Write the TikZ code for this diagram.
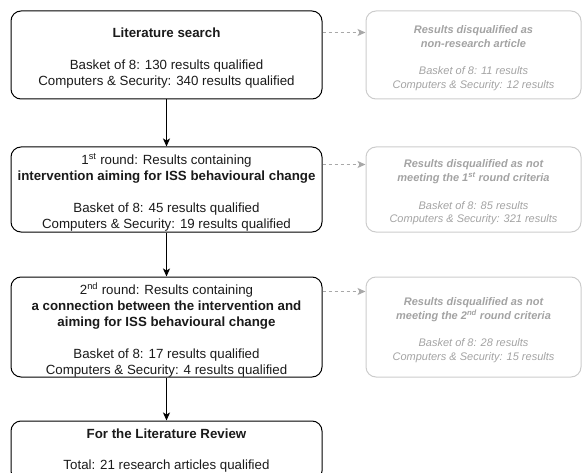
\documentclass[tikz,border=0pt]{standalone}
\usepackage{fontspec}
\setmainfont{Liberation Sans}
\usetikzlibrary{arrows.meta,calc}
\definecolor{graytxt}{HTML}{A3A3A3}
\definecolor{grayline}{HTML}{CCCCCC}
\definecolor{grayarrow}{HTML}{A8A8A8}
\definecolor{darktxt}{HTML}{1A1A1A}
\tikzset{
 lbox/.style={draw=black, line width=1pt, rounded corners=10pt, minimum width=311pt, inner sep=0pt},
 rbox/.style={draw=grayline, line width=1pt, rounded corners=10pt, minimum width=215pt, inner sep=0pt},
 ltext/.style={inner sep=0pt, align=center, font=\fontsize{13.3}{16}\selectfont, text=darktxt},
 rtext/.style={inner sep=0pt, align=center, font=\fontsize{11}{13.8}\selectfont\itshape, text=graytxt},
 flow/.style={draw=black, line width=1pt, -{Stealth[length=8pt,width=7pt,inset=2pt]}},
 skiparrow/.style={draw=grayarrow, line width=1pt, dash pattern=on 3pt off 3pt, -{Stealth[length=8pt,width=7pt,inset=2pt]}},
}
\begin{document}
\begin{tikzpicture}[x=1pt,y=-1pt]
\useasboundingbox (0,0) rectangle (583,473);
\clip (0,0) rectangle (583,473);
% left column boxes
\node[lbox, minimum height=88pt] (b1) at (166.5,55) {};
\node[lbox, minimum height=85pt] (b2) at (166.5,189.5) {};
\node[lbox, minimum height=100pt] (b3) at (166.5,327) {};
\node[lbox, minimum height=60pt] (b4) at (166.5,451) {};
% right column boxes
\node[rbox, minimum height=88pt] (r1) at (473.5,55) {};
\node[rbox, minimum height=85pt] (r2) at (473.5,189.5) {};
\node[rbox, minimum height=100pt] (r3) at (473.5,327) {};
% texts
\node[ltext] (t1) at ($(b1.center)+(0,3)$) {\textbf{Literature search}\\[16pt]Basket of 8: 130 results qualified\\Computers \& Security: 340 results qualified};
\node[ltext] (t2) at ($(b2.center)+(0,3)$) {1\textsuperscript{st} round: Results containing\\\textbf{intervention aiming for ISS behavioural change}\\[16pt]Basket of 8: 45 results qualified\\Computers \& Security: 19 results qualified};
\node[ltext] (t3) at ($(b3.center)+(0,3)$) {2\textsuperscript{nd} round: Results containing\\\textbf{a connection between the intervention and}\\\textbf{aiming for ISS behavioural change}\\[16pt]Basket of 8: 17 results qualified\\Computers \& Security: 4 results qualified};
\node[ltext] (t4) at ($(b4.center)+(0,0)$) {\textbf{For the Literature Review}\\[15pt]Total: 21 research articles qualified};
\node[rtext] (s1) at ($(r1.center)+(0,3)$) {\textbf{Results disqualified as}\\\textbf{non-research article}\\[13.8pt]Basket of 8: 11 results\\Computers \& Security: 12 results};
\node[rtext] (s2) at ($(r2.center)+(0,3)$) {\textbf{Results disqualified as not}\\\textbf{meeting the 1\textsuperscript{st} round criteria}\\[13.8pt]Basket of 8: 85 results\\Computers \& Security: 321 results};
\node[rtext] (s3) at ($(r3.center)+(0,3)$) {\textbf{Results disqualified as not}\\\textbf{meeting the 2\textsuperscript{nd} round criteria}\\[13.8pt]Basket of 8: 28 results\\Computers \& Security: 15 results};
% connectors
\draw[flow] (b1) -- (b2);
\draw[flow] (b2) -- (b3);
\draw[flow] (b3) -- (b4);
\draw[skiparrow] ($(b1.north east)+(0,22)$) -- ($(r1.north west)+(0,22)$);
\draw[skiparrow] ($(b2.north east)+(0,18)$) -- ($(r2.north west)+(0,18)$);
\draw[skiparrow] ($(b3.north east)+(0,15)$) -- ($(r3.north west)+(0,15)$);
\end{tikzpicture}
\end{document}
